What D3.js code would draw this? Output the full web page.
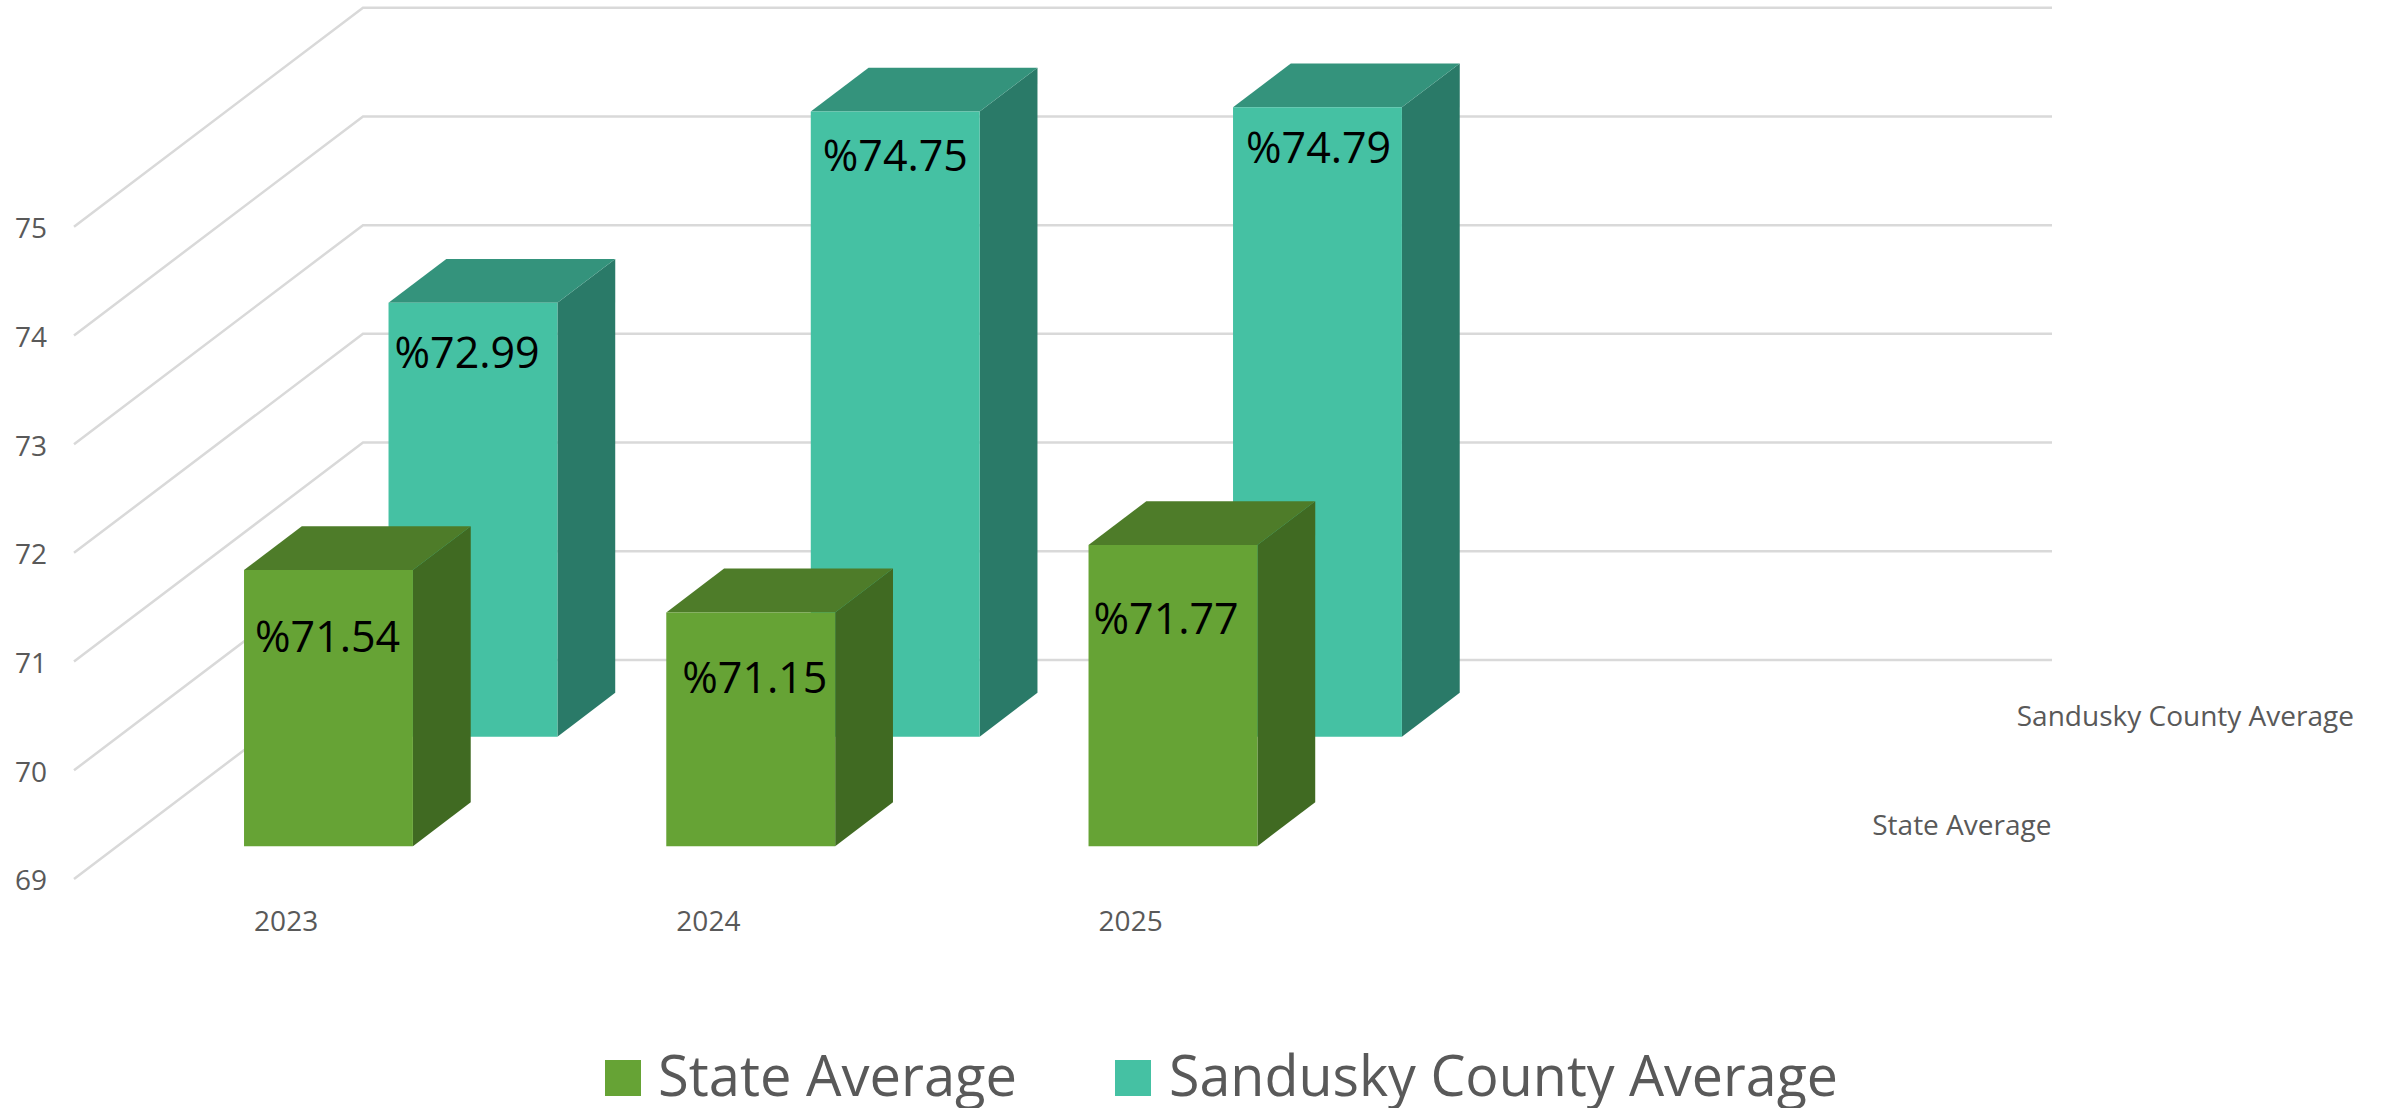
<!DOCTYPE html>
<html>
<head>
<meta charset="utf-8">
<script src="https://cdn.jsdelivr.net/npm/d3@7"></script>
<style>
  html, body { margin: 0; padding: 0; background: #fff; }
  svg { display: block; }
  text { font-family: "Open Sans", sans-serif; }
</style>
</head>
<body>
<div id="chart"></div>
<script>
const categories = ["2023", "2024", "2025"];
const seriesNames = ["State Average", "Sandusky County Average"];
const stateValues = [71.54, 71.15, 71.77];
const countyValues = [72.99, 74.75, 74.79];
const valueTicks = [69, 70, 71, 72, 73, 74, 75];

const width = 2387;
const height = 1108;

// how far the box runs back, front edge of floor to back wall
const depthX = 289;
const depthY = 219;

const colors = {
  "State Average": { front: "#66a335", top: "#4e7c29", side: "#406a22" },
  "Sandusky County Average": { front: "#45c1a3", top: "#34937c", side: "#2a7a68" }
};

// data labels were dragged by hand in the original, offset from bar's top left
const labelNudge = {
  "State Average": [[11, 82], [16, 81], [5, 89]],
  "Sandusky County Average": [[6, 65], [12, 59], [13, 56]]
};

const svg = d3.select("#chart")
  .append("svg")
  .attr("width", width)
  .attr("height", height);

// 4th slot is an empty category, the original leaves that room on the floor
const x = d3.scaleBand()
  .domain([...categories, ""])
  .range([74, 1763])
  .paddingInner(0.6)
  .paddingOuter(0.3);

const y = d3.scaleLinear()
  .domain([69, 75])
  .range([879, 226.7]);

const z = d3.scaleBand()
  .domain(seriesNames)
  .range([0, 1])
  .paddingInner(0.6)
  .paddingOuter(0.3);

const project = (px, v, d) => [px + depthX * d, y(v) - depthY * d];
const poly = pts => "M" + pts.map(p => p.join(",")).join("L") + "Z";

// walls
const grid = svg.append("g")
  .attr("fill", "none")
  .attr("stroke", "#d9d9d9")
  .attr("stroke-width", 2.5);

grid.selectAll("polyline")
  .data(valueTicks)
  .enter()
  .append("polyline")
  .attr("points", d => [
    project(x.range()[0], d, 0),
    project(x.range()[0], d, 1),
    project(x.range()[1], d, 1)
  ].join(" "));

// back row first so the front row paints over it
const rows = [
  { name: seriesNames[1], values: countyValues },
  { name: seriesNames[0], values: stateValues }
];

rows.forEach(row => {
  const c = colors[row.name];
  const z0 = z(row.name);
  const z1 = z0 + z.bandwidth();
  const base = y.domain()[0];

  const bar = svg.append("g")
    .selectAll("g")
    .data(row.values.map((v, i) => ({ v, i, cat: categories[i] })))
    .enter()
    .append("g");

  const left = d => x(d.cat);
  const right = d => x(d.cat) + x.bandwidth();

  bar.append("path")
    .attr("fill", c.side)
    .attr("d", d => poly([
      project(right(d), base, z0), project(right(d), base, z1),
      project(right(d), d.v, z1), project(right(d), d.v, z0)
    ]));

  bar.append("path")
    .attr("fill", c.top)
    .attr("d", d => poly([
      project(left(d), d.v, z0), project(left(d), d.v, z1),
      project(right(d), d.v, z1), project(right(d), d.v, z0)
    ]));

  bar.append("path")
    .attr("fill", c.front)
    .attr("d", d => poly([
      project(left(d), base, z0), project(left(d), d.v, z0),
      project(right(d), d.v, z0), project(right(d), base, z0)
    ]));

  bar.append("text")
    .attr("x", d => project(left(d), d.v, z0)[0] + labelNudge[row.name][d.i][0])
    .attr("y", d => project(left(d), d.v, z0)[1] + labelNudge[row.name][d.i][1])
    .attr("font-size", 43)
    .attr("fill", "#000")
    .text(d => "%" + d.v.toFixed(2));
});

// axes
const yAxis = svg.append("g")
  .attr("transform", "translate(47,2)")
  .call(d3.axisLeft(y).tickValues(valueTicks).tickFormat(d3.format("d")).tickSize(0).tickPadding(0));

const xAxis = svg.append("g")
  .attr("transform", "translate(1,911)")
  .call(d3.axisBottom(x).tickValues(categories).tickSize(0).tickPadding(0));

[yAxis, xAxis].forEach(a => {
  a.select(".domain").remove();
  a.selectAll("text")
    .attr("font-size", 28)
    .attr("fill", "#595959")
    .style("font-family", '"Open Sans", sans-serif');
});

// series names along the floor's right edge
svg.append("g")
  .selectAll("text")
  .data(seriesNames)
  .enter()
  .append("text")
  .attr("x", d => x.range()[1] + depthX * (z(d) + z.bandwidth() / 2) + 37)
  .attr("y", d => y(69) - depthY * (z(d) + z.bandwidth() / 2) + 11)
  .attr("font-size", 28)
  .attr("fill", "#595959")
  .text(d => d);

// legend
const legend = svg.append("g")
  .selectAll("g")
  .data(seriesNames)
  .enter()
  .append("g")
  .attr("transform", (d, i) => `translate(${[605, 1115][i]},1060)`);

legend.append("rect")
  .attr("width", 36)
  .attr("height", 36)
  .attr("fill", d => colors[d].front);

legend.append("text")
  .attr("x", (d, i) => [53, 54][i])
  .attr("y", 36)
  .attr("font-size", 56)
  .attr("textLength", (d, i) => [359, 669][i])
  .attr("lengthAdjust", "spacingAndGlyphs")
  .attr("fill", "#595959")
  .text(d => d);
</script>
</body>
</html>
